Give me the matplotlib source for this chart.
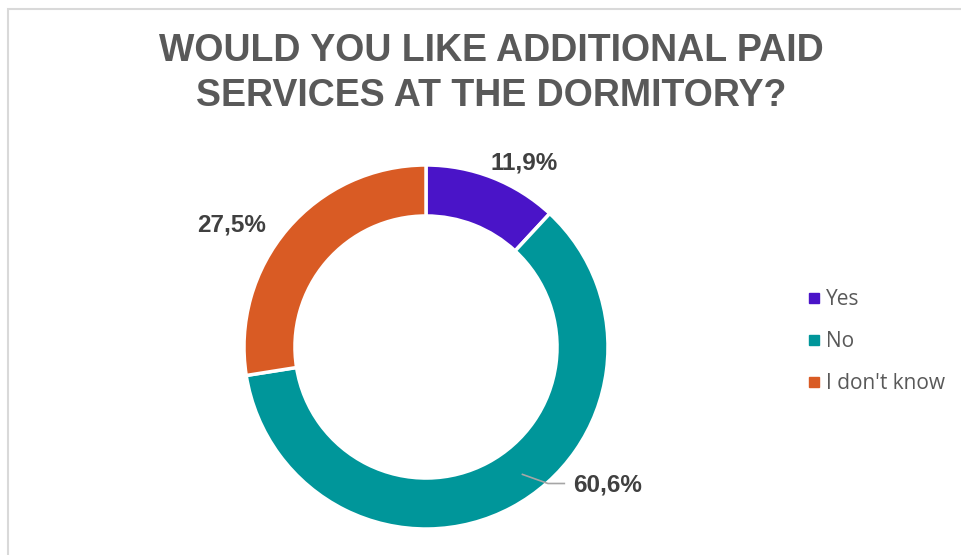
import numpy as np
import matplotlib
matplotlib.use("Agg")
import matplotlib.pyplot as plt
from matplotlib.lines import Line2D
from matplotlib.patches import Rectangle

categories = ["Yes", "No", "I don't know"]
shares = [11.9, 60.6, 27.5]
colors = ["#4A14C8", "#00969A", "#D95B24"]
title = "WOULD YOU LIKE ADDITIONAL PAID\nSERVICES AT THE DORMITORY?"

# label anchor points (data coords, ring radius = 1)
label_pos = [(0.54, 1.01), (1.00, -0.76), (-1.07, 0.67)]

W, H = 961, 555
fig = plt.figure(figsize=(W / 100, H / 100), dpi=100)
fig.patches.append(Rectangle((8 / W, -0.1), 1.2, 1 - 9 / H + 0.1, transform=fig.transFigure,
                             fill=False, edgecolor="#D9D9D9", linewidth=1.5))

cx, cy, r = 426, 347, 182
ax = fig.add_axes([(cx - r) / W, (H - cy - r) / H, 2 * r / W, 2 * r / H])
ax.pie(shares, colors=colors, startangle=90, counterclock=False, radius=1,
       wedgeprops=dict(width=0.28, edgecolor="white", linewidth=2.5))
ax.set_xlim(-1, 1)
ax.set_ylim(-1, 1)
ax.set_aspect("equal")
ax.axis("off")

for val, (lx, ly) in zip(shares, label_pos):
    ax.text(lx, ly, f"{val:.1f}".replace(".", ",") + "%", ha="center", va="center",
            fontsize=17.5, fontweight="bold", color="#404040",
            family="Liberation Sans", clip_on=False)

# leader line for the large slice
ax.plot([0.53, 0.67, 0.76], [-0.70, -0.75, -0.75], color="#A6A6A6", lw=1.2, clip_on=False)

fig.text(491 / W, 1 - 73.5 / H, title, ha="center", va="center", fontsize=27,
         fontweight="bold", color="#595959", family="Liberation Sans", linespacing=1.3)

handles = [Line2D([], [], marker="s", linestyle="none", markersize=7,
                  markerfacecolor=c, markeredgecolor=c) for c in colors]
fig.legend(handles, categories, loc="upper left", bbox_to_anchor=(791 / W, 1 - 279 / H),
           frameon=False, labelspacing=1.0, handletextpad=0.0,
           handlelength=1.2, borderpad=0, prop={"family": "Open Sans", "size": 15})
for t in fig.legends[0].get_texts():
    t.set_color("#595959")

fig.savefig("out.png", dpi=100)
